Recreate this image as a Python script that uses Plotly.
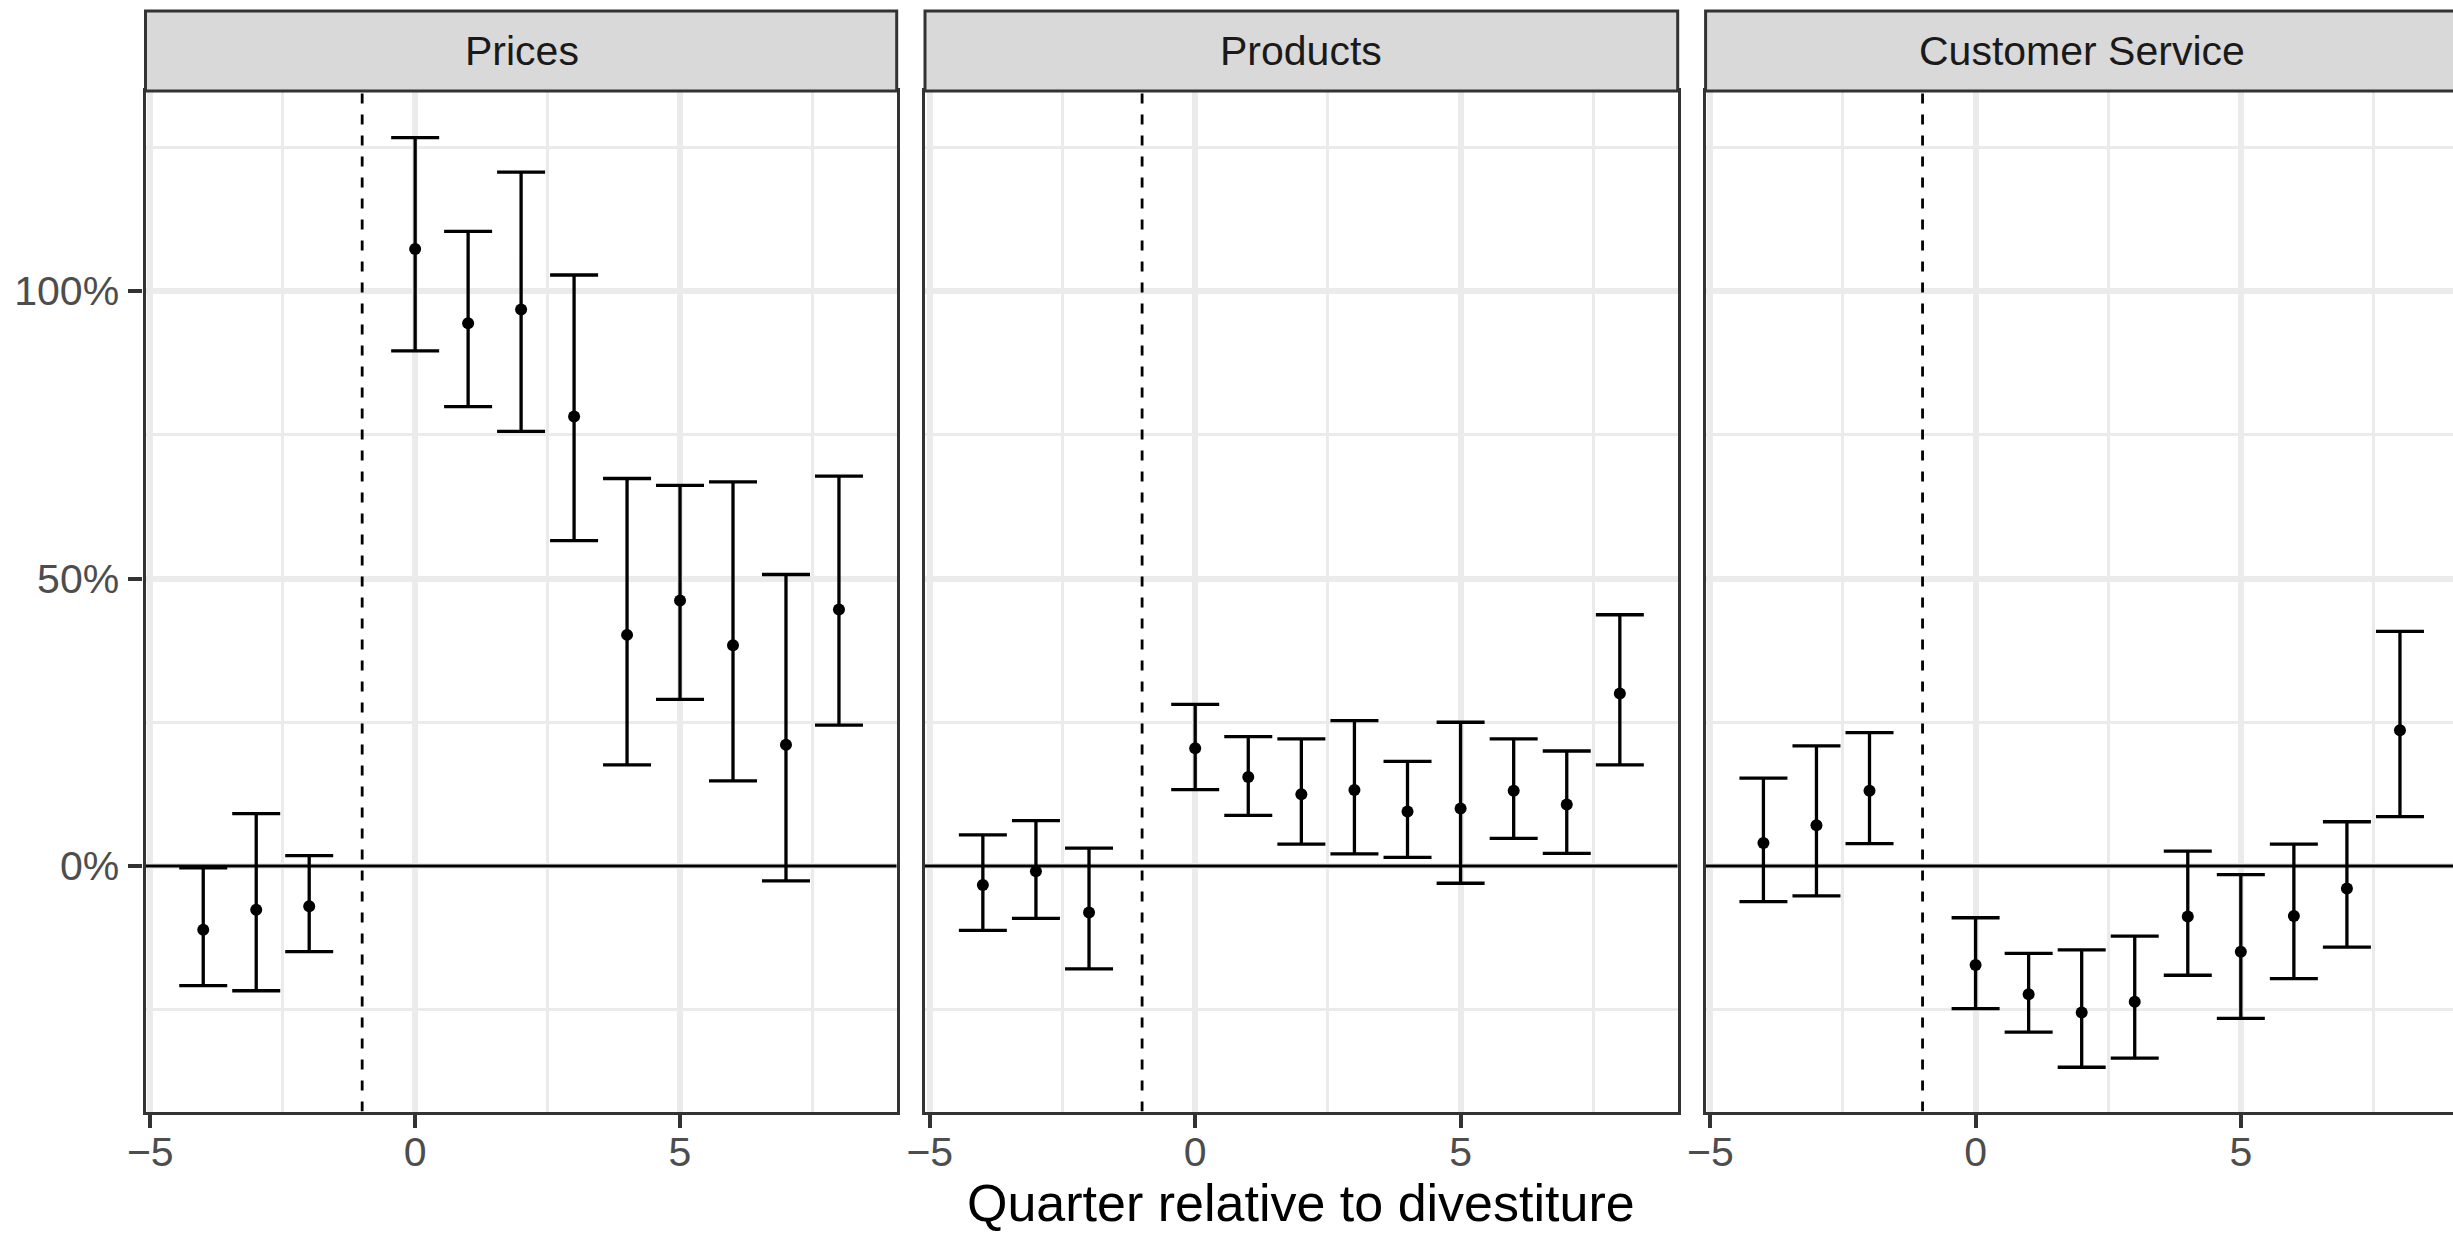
import plotly.graph_objects as go

# ---- data (percent) ----
quarters = [-4, -3, -2, 0, 1, 2, 3, 4, 5, 6, 7, 8]
panels = ["Prices", "Products", "Customer Service"]

prices_est = [-11.1, -7.6, -7.0, 107.3, 94.4, 96.8, 78.2, 40.2, 46.2, 38.4, 21.1, 44.6]
prices_lo = [-20.8, -21.7, -14.9, 89.6, 79.9, 75.6, 56.6, 17.6, 29.0, 14.8, -2.6, 24.5]
prices_hi = [-0.3, 9.1, 1.8, 126.7, 110.4, 120.7, 102.8, 67.4, 66.2, 66.8, 50.7, 67.8]

products_est = [-3.3, -0.9, -8.1, 20.5, 15.5, 12.5, 13.2, 9.5, 10.0, 13.1, 10.7, 30.0]
products_lo = [-11.2, -9.1, -17.9, 13.3, 8.8, 3.8, 2.1, 1.5, -3.0, 4.8, 2.2, 17.6]
products_hi = [5.4, 7.9, 3.1, 28.1, 22.5, 22.1, 25.3, 18.2, 25.0, 22.1, 20.0, 43.7]

service_est = [4.0, 7.1, 13.1, -17.2, -22.3, -25.5, -23.6, -8.8, -14.9, -8.7, -3.9, 23.6]
service_lo = [-6.2, -5.2, 3.9, -24.8, -28.9, -35.0, -33.4, -19.0, -26.5, -19.6, -14.1, 8.6]
service_hi = [15.3, 20.9, 23.2, -9.0, -15.2, -14.6, -12.2, 2.6, -1.5, 3.8, 7.7, 40.8]

y_ticks = [0, 50, 100]
y_tick_labels = ["0%", "50%", "100%"]
y_minor = [-25, 25, 75, 125]
x_ticks = [-5, 0, 5]
x_minor = [-2.5, 2.5, 7.5]
divestiture_line = -1
zero_line = 0
x_title = "Quarter relative to divestiture"

series = [
    (prices_est, prices_lo, prices_hi),
    (products_est, products_lo, products_hi),
    (service_est, service_lo, service_hi),
]

W, H = 2453, 1234
FONT = "Liberation Sans, Arial, Helvetica, sans-serif"
BORDER = "#333333"
GRID = "#EBEBEB"

x_domains = [
    [145.5 / W, 896.7 / W],
    [925.0 / W, 1677.7 / W],
    [1705.6 / W, 1.0],
]
x_ranges = [[-5.09, 9.09], [-5.09, 9.09], [-5.09, 9.0]]
y_range = [-42.7, 134.8]
y_dom = [1 - 1111.5 / H, 1 - 91.0 / H]
strip_top = 1 - 11.0 / H

fig = go.Figure()

for i, (est, lo, hi) in enumerate(series):
    ax = "" if i == 0 else str(i + 1)
    # horizontal zero reference line
    fig.add_trace(go.Scatter(
        x=x_ranges[i], y=[zero_line, zero_line], mode="lines",
        line=dict(color="black", width=3.2),
        xaxis="x" + ax, yaxis="y" + ax, showlegend=False, hoverinfo="skip",
    ))
    # vertical dashed divestiture line
    fig.add_trace(go.Scatter(
        x=[divestiture_line, divestiture_line], y=y_range, mode="lines",
        line=dict(color="black", width=2.8, dash="10px,11px"),
        xaxis="x" + ax, yaxis="y" + ax, showlegend=False, hoverinfo="skip",
    ))
    fig.add_trace(go.Scatter(
        x=quarters, y=est,
        mode="markers",
        marker=dict(color="black", size=12),
        error_y=dict(
            type="data", symmetric=False,
            array=[h - e for h, e in zip(hi, est)],
            arrayminus=[e - l for e, l in zip(est, lo)],
            color="black", thickness=3.3, width=24,
        ),
        xaxis="x" + ax, yaxis="y" + ax,
        showlegend=False,
    ))

shapes = []
annotations = []
layout = dict(
    width=W, height=H,
    margin=dict(l=0, r=0, t=0, b=0, autoexpand=False),
    paper_bgcolor="white", plot_bgcolor="white",
    font=dict(family=FONT, color="#4D4D4D", size=41),
)

for i in range(3):
    ax = "" if i == 0 else str(i + 1)
    xa = dict(
        domain=x_domains[i], range=x_ranges[i], anchor="y" + ax,
        automargin=False,
        tickvals=x_ticks, ticks="outside", ticklen=13, tickwidth=4,
        tickcolor=BORDER, tickfont=dict(size=41, color="#4D4D4D", family=FONT),
        ticklabelstandoff=-11,
        showgrid=True, gridcolor=GRID, gridwidth=5.5,
        minor=dict(tickvals=x_minor, showgrid=True, gridcolor=GRID, gridwidth=3, ticks=""),
        showline=True, linecolor=BORDER, linewidth=3.3, mirror=True,
        zeroline=False,
    )
    ya = dict(
        domain=y_dom, range=y_range, anchor="x" + ax,
        automargin=False,
        tickvals=y_ticks, ticktext=y_tick_labels,
        showgrid=True, gridcolor=GRID, gridwidth=5.5,
        minor=dict(tickvals=y_minor, showgrid=True, gridcolor=GRID, gridwidth=3, ticks=""),
        showline=True, linecolor=BORDER, linewidth=3.3, mirror=True,
        zeroline=False,
    )
    if i == 0:
        ya.update(ticks="outside", ticklen=14, tickwidth=4, tickcolor=BORDER,
                  ticklabelstandoff=1,
                  tickfont=dict(size=41, color="#4D4D4D", family=FONT))
    else:
        ya.update(showticklabels=False, ticks="")
    layout["xaxis" + ax] = xa
    layout["yaxis" + ax] = ya

    # strip
    shapes.append(dict(type="rect", xref="paper", yref="paper",
                       x0=x_domains[i][0], x1=x_domains[i][1] if i < 2 else 1.01,
                       y0=y_dom[1], y1=strip_top,
                       fillcolor="#D9D9D9", line=dict(color=BORDER, width=3),
                       layer="above"))
    annotations.append(dict(
        xref="paper", yref="paper",
        x=x_domains[i][0] + 376.0 / W,
        y=(y_dom[1] + strip_top) / 2,
        text=panels[i], showarrow=False, xanchor="center", yanchor="middle",
        font=dict(size=41, color="#1A1A1A", family=FONT),
    ))

annotations.append(dict(
    xref="paper", yref="paper", x=1301.5 / W, y=1 - 1203.0 / H,
    text=x_title, showarrow=False, xanchor="center", yanchor="middle",
    font=dict(size=52, color="black", family=FONT),
))

layout["shapes"] = shapes
layout["annotations"] = annotations
fig.update_layout(**layout)

fig.write_html("out.html")
